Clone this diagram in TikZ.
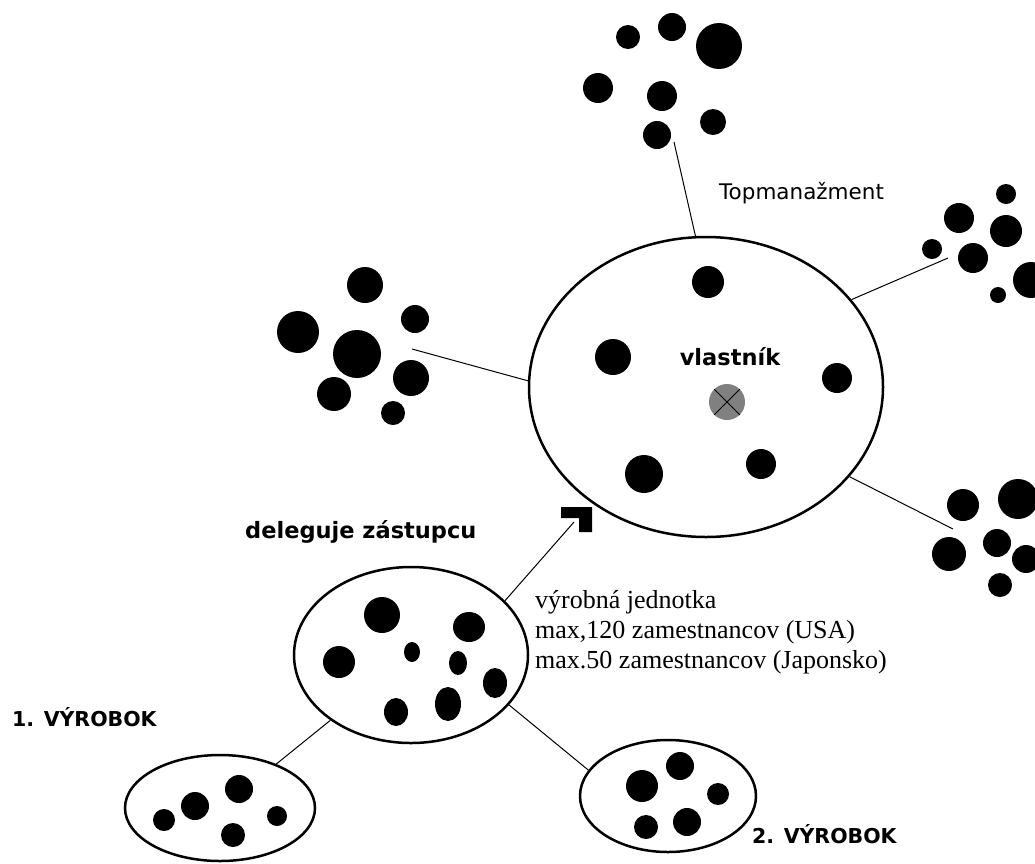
\documentclass[tikz,border=0pt]{standalone}
\usepackage{fontspec}
\setmainfont{Liberation Serif}
\newfontfamily\dejavu{DejaVu Sans}
\usetikzlibrary{shapes.geometric}
\newcommand\mydot[3]{\fill (#1,#2) circle[radius=#3pt];}
\newcommand\myegg[4]{\fill (#1,#2) ellipse[x radius=#3pt, y radius=#4pt];}
\begin{document}
\begin{tikzpicture}[x=1pt,y=-1pt]
\tikzset{
  blob/.style={ellipse, draw, line width=2.5pt, inner sep=0pt},
  link/.style={line width=1pt},
  boldlabel/.style={font=\dejavu\bfseries\fontsize{22.5}{27}\selectfont, inner sep=0pt},
  caplabel/.style={font=\dejavu\bfseries\fontsize{20.5}{24}\selectfont, inner sep=0pt, anchor=west},
  plainlabel/.style={font=\dejavu\fontsize{21.5}{25}\selectfont, inner sep=0pt, anchor=west},
  seriflabel/.style={font=\fontsize{26}{30}\selectfont, inner sep=0pt, anchor=base west},
}
\useasboundingbox (0,0) rectangle (1035,863);
\fill[white] (0,0) rectangle (1035,863);

% ellipses
\node[blob, minimum width=354pt, minimum height=300pt] (main) at (706,387) {};
\node[blob, minimum width=234pt, minimum height=176pt] (mid) at (411,655) {};
\node[blob, minimum width=190pt, minimum height=106pt] (bl) at (220,808) {};
\node[blob, minimum width=176pt, minimum height=112pt] (br) at (668,796) {};

% main ellipse contents
\mydot{708}{282}{16}
\mydot{613}{357}{18}
\mydot{837}{378}{15}
\mydot{644}{474}{19}
\mydot{761}{464}{15}
\node[boldlabel] (owner) at (730,357) {vlastník};
\node[circle, fill=black!50, minimum size=36pt, inner sep=0pt] (own) at (727,402) {};
\draw[line width=0.8pt] (own.45) -- (own.225) (own.135) -- (own.315);

% top cluster
\mydot{628}{37}{12}
\mydot{672}{27}{14}
\mydot{719}{46}{23}
\mydot{598}{88}{15}
\mydot{662}{96}{15}
\mydot{713}{122}{13}
\mydot{657}{135}{14}
\coordinate (topc) at (674,142);

% right top cluster
\mydot{1006}{194}{10}
\mydot{959}{218}{15}
\mydot{1006}{231}{16}
\mydot{932}{249}{10}
\mydot{973}{258}{15}
\mydot{1031}{280}{18}
\mydot{998}{295}{8}
\coordinate (rtc) at (948,258);

% right bottom cluster
\mydot{963}{505}{16}
\mydot{1018}{499}{20}
\mydot{949}{554}{17}
\mydot{997}{543}{14}
\mydot{1026}{559}{14}
\mydot{1000}{585}{12}
\coordinate (rbc) at (953,529);

% left cluster
\mydot{365}{285}{18}
\mydot{298}{332}{21}
\mydot{415}{319}{14}
\mydot{357}{354}{24}
\mydot{334}{394}{17}
\mydot{411}{378}{18}
\mydot{393}{413}{12}
\coordinate (ltc) at (412,349);

% middle ellipse contents
\myegg{382}{615}{18}{18}
\myegg{469}{627}{16}{15}
\myegg{339}{662}{16}{16}
\myegg{412}{652}{8}{10}
\myegg{458}{663}{9}{12}
\myegg{495}{683}{12}{15}
\myegg{396}{712}{12}{14}
\myegg{448}{704}{13}{17}

% bottom left contents
\mydot{239}{789}{14}
\mydot{195}{806}{14}
\mydot{164}{820}{11}
\mydot{233}{835}{12}
\mydot{277}{816}{10}

% bottom right contents
\mydot{680}{766}{14}
\mydot{642}{786}{16}
\mydot{718}{794}{11}
\mydot{646}{827}{12}
\mydot{687}{822}{14}

% arrow head (L shape)
\coordinate (arr) at (574,522);
\fill (561,507) -- (592,507) -- (592,532) -- (579,532) -- (579,518) -- (561,518) -- cycle;

% connectors
\draw[link] (topc) -- (main.94.5);
\draw[link] (rtc) -- (main.31);
\draw[link] (rbc) -- (main.-32);
\draw[link] (ltc) -- (main.178);
\draw[link] (mid.30) -- (arr);
\draw[link] (mid.-141) -- (bl.38);
\draw[link] (mid.-27) -- (br.162);

% labels
\node[plainlabel] (top) at (719,193) {Topmanažment};
\node[boldlabel, anchor=west] (deleg) at (245,532) {deleguje zástupcu};
\node[caplabel] (v1) at (12,717) {1. VÝROBOK};
\node[caplabel] (v2) at (752,834) {2. VÝROBOK};
\node[seriflabel] (t1) at (535,608) {výrobná jednotka};
\node[seriflabel] (t2) at (535,638) {max,120 zamestnancov (USA)};
\node[seriflabel] (t3) at (535,668) {max.50 zamestnancov (Japonsko)};
\end{tikzpicture}
\end{document}
